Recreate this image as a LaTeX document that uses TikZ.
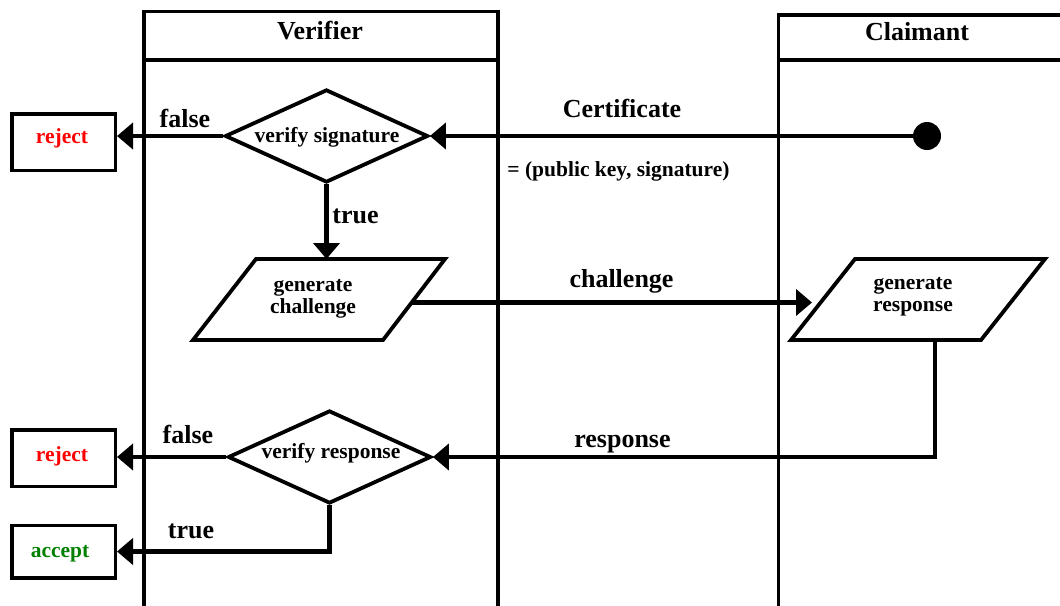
\documentclass[tikz,border=0pt]{standalone}
\usepackage{fontspec}
\setmainfont{Liberation Serif}
\usetikzlibrary{shapes.geometric,arrows.meta}
\definecolor{rejectred}{RGB}{255,0,0}
\definecolor{acceptgreen}{RGB}{0,128,0}

\begin{document}
\begin{tikzpicture}[x=1pt,y=-1pt,
  lane/.style={line width=3.5pt, line cap=rect},
  boxshape/.style={draw, rectangle, line width=3.5pt, minimum width=103.5pt, inner sep=0pt},
  decision/.style={draw, diamond, line width=3.8pt, minimum width=203pt, minimum height=93pt, inner sep=0pt},
  iobox/.style={line width=3.8pt, line join=miter},
  flow/.style={line width=4.5pt, -{Triangle[length=16pt,width=26pt]}},
  big/.style={font=\bfseries\fontsize{26}{30}\selectfont, anchor=base, inner sep=0pt},
  small/.style={font=\bfseries\fontsize{21.5}{22}\selectfont, anchor=base, inner sep=0pt, align=center},
  dot/.style={circle, fill, inner sep=0pt, minimum size=28pt}]

\useasboundingbox (0,0) rectangle (1060,605);
\clip (0,0) rectangle (1060,605);

% swimlanes
\draw[lane] (144,11.7) rectangle (498,60);
\draw[lane] (144,60) -- (144,615);
\draw[lane] (498,60) -- (498,615);
\node[big] (vtitle) at (320,39) {Verifier};

\draw[lane] (1075,15) -- (778.7,15) -- (778.7,615);
\draw[lane] (778.7,60) -- (1075,60);
\node[big] (ctitle) at (917,40) {Claimant};

% certificate check
\node[dot] (cert) at (927,136) {};
\node[decision] (sig) at (326.5,136) {};
\node[small] (sigtxt) at (327,142) {verify signature};
\node[boxshape, minimum height=56.5pt] (rej1) at (63.5,142) {};
\node[small, text=rejectred] (rej1txt) at (62,143) {reject};

\draw[flow] (cert.center) -- (sig.east);
\draw[flow] (sig.west) -- (rej1.east |- sig.west);
\node[big] (certlbl) at (622,117) {Certificate};
\node[small] (certval) at (618.5,176) {= (public key, signature)};
\node[big] (false1) at (185,127) {false};

% challenge generation (baseline of the last line)
\draw[iobox] (256,259) -- (445,259) -- (383,340) -- (193,340) -- cycle;
\node[small] (gctxt) at (313,313) {generate\\challenge};
\coordinate (gctop) at (326.5,259);
\draw[flow] (sig.south) -- (gctop);
\node[big] (true1) at (355.5,223) {true};

% response generation
\draw[iobox] (855,259) -- (1045,259) -- (981,340) -- (791,340) -- cycle;
\node[small] (grtxt) at (913,311) {generate\\response};

\coordinate (chfrom) at (412,302.5);
\coordinate (chto) at (812,302.5);
\draw[flow] (chfrom) -- (chto);
\node[big] (chlbl) at (621.5,287) {challenge};

% response check
\node[decision] (vr) at (329.5,457) {};
\node[small] (vrtxt) at (331,458) {verify response};
\node[boxshape, minimum height=56.5pt] (rej2) at (63.5,458) {};
\node[small, text=rejectred] (rej2txt) at (62,461) {reject};
\node[boxshape, minimum height=52.5pt] (acc) at (63.5,551.5) {};
\node[small, text=acceptgreen] (acctxt) at (60,557) {accept};

\coordinate (rsfrom) at (935,340);
\draw[flow] (rsfrom) |- (vr.east);
\node[big] (rslbl) at (622.5,447) {response};

\draw[flow] (vr.west) -- (rej2.east |- vr.west);
\node[big] (false2) at (188,443) {false};
\draw[flow] (vr.south) |- (acc.east);
\node[big] (true2) at (191,538) {true};
\end{tikzpicture}
\end{document}
